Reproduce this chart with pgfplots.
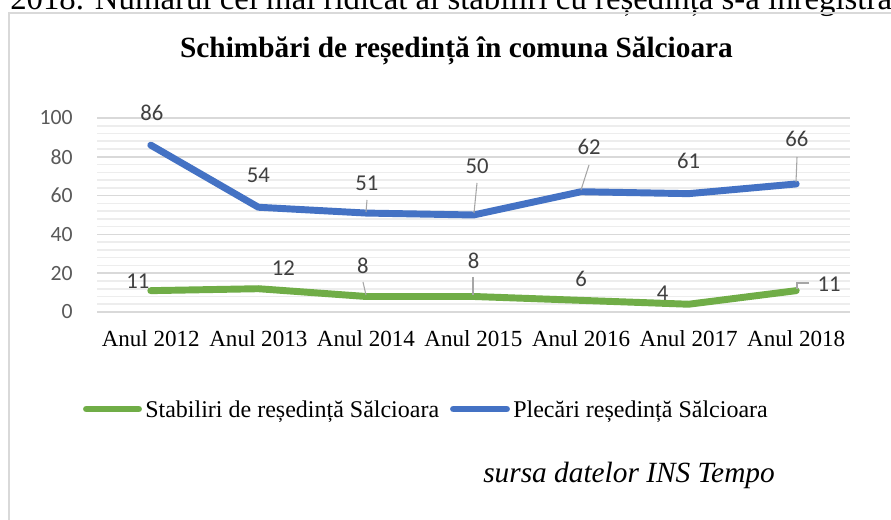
\documentclass[border=0pt]{standalone}
\usepackage{fontspec}
\setmainfont{Liberation Serif}
\newfontfamily\calibri{Carlito}
\usepackage{pgfplots}
\pgfplotsset{compat=1.18}
\usepackage{pgfplotstable}
\definecolor{blueS}{HTML}{4472C4}
\definecolor{greenS}{HTML}{70AD47}
\definecolor{gridmaj}{HTML}{D9D9D9}
\definecolor{gridmin}{HTML}{EDEDED}
\definecolor{lbl}{HTML}{404040}
\definecolor{tck}{HTML}{595959}
\definecolor{leader}{HTML}{A6A6A6}

% x, value, label offset (px, dy up)
\pgfplotstableread{
x y dx dy
0 86 1 32
1 54 0 32
2 51 1 30
3 50 3.5 49
4 62 8 45
5 61 0 33
6 66 0.7 45
}\plecari
\pgfplotstableread{
x y dx dy
0 11 -13 9
1 12 25 21
2 8 -3 31
3 8 0 36
4 6 0 21
5 4 -26 11
6 11 33 6
}\stabiliri

\begin{document}
\begin{tikzpicture}[x=0.75pt,y=0.75pt]
\useasboundingbox (0,0) rectangle (891,520);
\clip (0,0) rectangle (891,520);
\fill[white] (0,0) rectangle (891,520);
% cut-off document text at top
\node[anchor=base west, inner sep=0pt, font=\fontsize{24.6}{24.6}\selectfont] at (10,510.5)
  {2018. Numărul cel mai ridicat al stabiliri cu reședința s-a înregistrat în anul};
% chart frame
\draw[gridmaj, line width=1.5pt] (8.5,-20) -- (8.5,507) -- (920,507);
% title
\node[anchor=base, inner sep=0pt, font=\bfseries\fontsize{22}{22}\selectfont] at (456.5,462)
  {Schimbări de reședință în comuna Sălcioara};
\coordinate (O) at (97,208);
\begin{axis}[
  at={(O)}, anchor=south west,
  scale only axis, width=564.75pt, height=145.5pt,
  xmin=-0.5, xmax=6.5, ymin=0, ymax=100,
  clip=false,
  axis line style={draw=none},
  tick style={draw=none},
  major tick length=0pt, minor tick length=0pt,
  /pgf/number format/assume math mode=true,
  xtick={0,...,6},
  xticklabels={Anul 2012,Anul 2013,Anul 2014,Anul 2015,Anul 2016,Anul 2017,Anul 2018},
  xticklabel style={anchor=base, inner sep=0pt, yshift=-26.25pt, font=\fontsize{17.3}{17.3}\selectfont, text=black},
  ytick={0,20,...,100},
  minor y tick num=4,
  yticklabel style={anchor=east, inner sep=0pt, xshift=-18pt, font=\calibri\fontsize{16.3}{16.3}\selectfont, text=tck},
  ymajorgrids, yminorgrids,
  major grid style={draw=gridmaj, line width=1.3pt},
  minor grid style={draw=gridmin, line width=1.2pt},
  nodes near coords,
  visualization depends on={\thisrow{dx}\as\lblx},
  visualization depends on={\thisrow{dy}\as\lbly},
  nodes near coords style={font=\calibri\fontsize{17}{17}\selectfont, text=lbl, anchor=center, inner sep=0pt,
     xshift={\lblx*0.75pt}, yshift={\lbly*0.75pt}},
]
\addplot[greenS, line width=5.2pt, line cap=round, line join=round, mark=none] table[x=x,y=y]{\stabiliri};
\addplot[blueS, line width=5.2pt, line cap=round, line join=round, mark=none] table[x=x,y=y]{\plecari};
\end{axis}
% leader lines
\begin{scope}[leader, line width=0.8pt]
\draw (367,320) -- (366,308);
\draw (477,337) -- (474,307);
\draw (589,355) -- (581,330);
\draw (797,363) -- (796,338);
\draw (363,238) -- (366,225);
\draw (473,243) -- (473,225);
\draw (809,237) -- (797,237) -- (797,231);
\end{scope}
% legend
\draw[greenS, line width=5.2pt, line cap=round] (86.5,111) -- (138.5,111);
\node[anchor=base west, inner sep=0pt, font=\fontsize{18}{18}\selectfont] at (145,102) {Stabiliri de reședință Sălcioara};
\draw[blueS, line width=5.2pt, line cap=round] (453.5,111) -- (506.5,111);
\node[anchor=base west, inner sep=0pt, font=\fontsize{18}{18}\selectfont] at (513,102) {Plecări reședință Sălcioara};
% source
\node[anchor=base west, inner sep=0pt, font=\itshape\fontsize{22}{22}\selectfont] at (483,37) {sursa datelor INS Tempo};
\end{tikzpicture}
\end{document}
